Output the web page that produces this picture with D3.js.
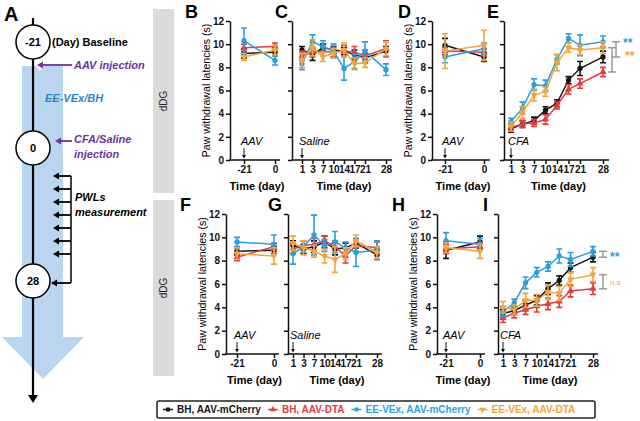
<!DOCTYPE html>
<html>
<head>
<meta charset="utf-8">
<script src="https://cdn.jsdelivr.net/npm/d3@7"></script>
<style>
  body { margin: 0; background: #fff; }
  svg { display: block; font-family: "Liberation Sans", Arial, sans-serif; }
  .axis path, .axis line { stroke: #111; stroke-width: 1.5; }
  .axis text { font-size: 10px; font-weight: bold; fill: #111; }
</style>
</head>
<body>
<svg id="fig" width="640" height="421"></svg>
<script>
// groups: black, red, blue, orange
const groups = ["BH, AAV-mCherry", "BH, AAV-DTA", "EE-VEx, AAV-mCherry", "EE-VEx, AAV-DTA"];
const colors = ["#151515", "#e8393f", "#2a9fe0", "#f2a53c"];
const baseDays = [-21, 0];
const testDays = [1, 3, 7, 10, 14, 17, 21, 28];
const yTicks = [0, 2, 4, 6, 8, 10, 12];

// B: baseline, top row
const meanB = [[9.2, 9.3], [9.7, 9.8], [10.3, 8.6], [8.9, 9.5]];
const semB  = [[0.4, 0.3], [0.3, 0.3], [1.1, 0.4], [0.3, 0.4]];
// C: saline, top row
const meanC = [
  [9.5, 9.1, 9.7, 9.5, 9.4, 9.1, 8.8, 9.4],
  [9.0, 9.3, 9.4, 9.3, 9.4, 9.3, 9.0, 9.6],
  [8.3, 10.2, 9.8, 9.4, 7.9, 8.5, 9.4, 7.8],
  [8.6, 9.7, 8.9, 9.2, 9.5, 8.3, 8.4, 9.6]];
const semC = [
  [0.3, 0.5, 0.3, 0.3, 0.3, 0.4, 0.4, 0.4],
  [0.4, 0.4, 0.4, 0.4, 0.5, 0.5, 0.5, 0.7],
  [0.5, 0.6, 0.5, 0.6, 1.0, 0.6, 0.8, 0.5],
  [0.6, 0.7, 0.4, 0.4, 0.6, 0.5, 0.4, 0.6]];
// D: baseline, top row
const meanD = [[9.9, 8.9], [9.4, 9.3], [8.9, 9.6], [9.4, 9.9]];
const semD  = [[0.6, 0.4], [0.3, 0.3], [0.5, 0.5], [1.5, 1.3]];
// E: CFA, top row
const meanE = [
  [2.7, 3.1, 3.4, 4.3, 4.9, 6.9, 7.9, 8.9],
  [2.8, 3.1, 3.2, 3.5, 4.7, 6.1, 6.6, 7.6],
  [3.3, 4.5, 6.5, 6.4, 8.7, 10.5, 9.9, 10.2],
  [2.9, 4.1, 5.6, 5.9, 8.4, 9.7, 9.5, 9.7]];
const semE = [
  [0.3, 0.3, 0.3, 0.3, 0.3, 0.3, 0.6, 0.5],
  [0.3, 0.3, 0.3, 0.4, 0.3, 0.4, 0.4, 0.4],
  [0.3, 0.5, 0.5, 0.5, 0.4, 0.4, 0.9, 0.5],
  [0.4, 0.5, 0.5, 0.4, 0.7, 0.4, 0.4, 0.5]];
// F: baseline, bottom row
const meanF = [[8.8, 8.9], [8.3, 9.2], [9.6, 9.4], [8.6, 8.4]];
const semF  = [[0.3, 0.3], [0.3, 0.3], [0.4, 0.8], [0.5, 0.7]];
// G: saline, bottom row
const meanG = [
  [9.3, 9.0, 9.2, 9.6, 9.0, 9.1, 9.5, 8.5],
  [9.0, 9.3, 9.4, 9.7, 9.2, 8.4, 9.3, 9.1],
  [8.6, 9.2, 10.2, 9.3, 9.6, 9.1, 8.7, 8.9],
  [9.5, 9.1, 8.8, 8.4, 8.1, 8.6, 9.7, 8.7]];
const semG = [
  [0.4, 0.4, 0.5, 0.5, 0.5, 0.4, 0.4, 0.4],
  [0.4, 0.4, 0.5, 0.4, 0.5, 0.6, 0.5, 0.5],
  [0.9, 0.5, 1.7, 0.5, 0.9, 0.5, 1.2, 0.8],
  [0.6, 0.6, 0.5, 0.6, 1.1, 0.5, 0.5, 0.5]];
// H: baseline, bottom row
const meanH = [[8.9, 9.6], [9.0, 9.2], [9.7, 9.4], [9.1, 8.8]];
const semH  = [[0.7, 0.5], [0.4, 0.3], [0.7, 0.5], [0.4, 0.6]];
// I: CFA, bottom row
const meanI = [
  [3.5, 3.7, 4.2, 4.6, 5.6, 6.3, 7.4, 8.3],
  [3.1, 3.5, 3.8, 4.1, 4.3, 4.5, 5.4, 5.6],
  [3.6, 4.4, 6.1, 7.0, 7.5, 8.4, 8.1, 8.8],
  [4.0, 3.8, 4.6, 4.6, 5.3, 5.2, 6.4, 6.8]];
const semI = [
  [0.3, 0.3, 0.4, 0.4, 0.5, 0.4, 0.4, 0.4],
  [0.4, 0.4, 0.4, 0.5, 0.5, 0.5, 0.5, 0.5],
  [0.4, 0.3, 0.5, 0.4, 0.4, 0.6, 0.6, 0.4],
  [0.5, 0.4, 0.6, 0.5, 0.6, 0.6, 0.6, 0.6]];

// stats at day 28: [group a, group b, label]
const sigE = [[2, 0, "**"], [3, 1, "**"]];
const sigI = [[2, 0, "**"], [3, 1, "n.s"]];

const svg = d3.select("#fig");
const rows = [[160, 21], [354, 214]];
// the CFA/saline axis puts day 28 two slots after day 21
const slot = d => d === 28 ? 8 : testDays.indexOf(d);

const panels = [
  { id: "B", row: 0, days: baseDays, mean: meanB, sem: semB, x0: 230, xa: 244, xb: 275, x1: 280, ylab: true, note: "AAV", lx: 185 },
  { id: "C", row: 0, days: testDays, mean: meanC, sem: semC, x0: 292, xa: 302, xb: 386, x1: 392, ylab: false, note: "Saline", lx: 275 },
  { id: "D", row: 0, days: baseDays, mean: meanD, sem: semD, x0: 432, xa: 445, xb: 484, x1: 490, ylab: true, note: "AAV", lx: 398 },
  { id: "E", row: 0, days: testDays, mean: meanE, sem: semE, x0: 504, xa: 511, xb: 603, x1: 609, ylab: false, note: "CFA", lx: 487, sig: sigE },
  { id: "F", row: 1, days: baseDays, mean: meanF, sem: semF, x0: 226, xa: 237, xb: 274, x1: 279, ylab: true, note: "AAV", lx: 180 },
  { id: "G", row: 1, days: testDays, mean: meanG, sem: semG, x0: 288, xa: 293, xb: 377, x1: 382, ylab: false, note: "Saline", lx: 268 },
  { id: "H", row: 1, days: baseDays, mean: meanH, sem: semH, x0: 437, xa: 446, xb: 480, x1: 485, ylab: true, note: "AAV", lx: 392 },
  { id: "I", row: 1, days: testDays, mean: meanI, sem: semI, x0: 498, xa: 503, xb: 593, x1: 598, ylab: false, note: "CFA", lx: 483, sig: sigI }
];

const shapes = [d3.symbolCircle, d3.symbolTriangle, d3.symbolCircle, d3.symbolTriangle];

// ---------- panel A : timeline ----------
const purple = "#7030a0";
const A = svg.append("g");
A.append("polygon")
  .attr("points", "22,66 36,66 40,71 44,66 63,66 63,337 84,337 43,379 2,337 22,337")
  .attr("fill", "#b9d5ef");
A.append("line").attr("x1", 33).attr("x2", 33).attr("y1", 18).attr("y2", 396)
  .attr("stroke", "#000").attr("stroke-width", 2.2);
A.append("path").attr("d", "M28,395 L38,395 L33,403 Z").attr("fill", "#000");

const circ = [[42, "-21"], [148, "0"], [281, "28"]];
circ.forEach(([cy, t]) => {
  A.append("circle").attr("cx", 33).attr("cy", cy).attr("r", 17)
    .attr("fill", "#fff").attr("stroke", "#000").attr("stroke-width", 1.5);
  A.append("text").attr("x", 33).attr("y", cy + 4).attr("text-anchor", "middle")
    .attr("font-size", 11).attr("font-weight", "bold").text(t);
});
A.append("text").attr("x", 4).attr("y", 21).attr("font-size", 20).attr("font-weight", "bold").text("A");
A.append("text").attr("x", 52).attr("y", 46).attr("font-size", 11).attr("font-weight", "bold").text("(Day) Baseline");

const leftArrow = (x1, x2, y, col) => {
  A.append("line").attr("x1", x1).attr("x2", x2 + 4).attr("y1", y).attr("y2", y)
    .attr("stroke", col).attr("stroke-width", 1.8);
  A.append("path").attr("d", `M${x2},${y} L${x2 + 6},${y - 3.5} L${x2 + 6},${y + 3.5} Z`).attr("fill", col);
};
leftArrow(72, 37, 65, purple);
A.append("text").attr("x", 74).attr("y", 69).attr("font-size", 11).attr("font-weight", "bold")
  .attr("font-style", "italic").attr("fill", purple).text("AAV injection");
A.append("text").attr("x", 45).attr("y", 102).attr("font-size", 11).attr("font-weight", "bold")
  .attr("font-style", "italic").attr("fill", "#2f86c6").text("EE-VEx/BH");
leftArrow(72, 55, 141, purple);
A.append("text").attr("x", 74).attr("y", 143).attr("font-size", 11).attr("font-weight", "bold")
  .attr("font-style", "italic").attr("fill", purple).text("CFA/Saline");
A.append("text").attr("x", 74).attr("y", 158).attr("font-size", 11).attr("font-weight", "bold")
  .attr("font-style", "italic").attr("fill", purple).text("injection");

const pwl = [176, 189, 202, 215, 228, 241, 254];
A.append("line").attr("x1", 71).attr("x2", 71).attr("y1", 176).attr("y2", 283)
  .attr("stroke", "#000").attr("stroke-width", 1.5);
pwl.forEach(yy => leftArrow(71, 53, yy, "#000"));
leftArrow(71, 51, 283, "#000");
A.append("text").attr("x", 75).attr("y", 201).attr("font-size", 11).attr("font-weight", "bold")
  .attr("font-style", "italic").text("PWLs");
A.append("text").attr("x", 75).attr("y", 216).attr("font-size", 11).attr("font-weight", "bold")
  .attr("font-style", "italic").text("measurement");

// ---------- dDG side bars ----------
[[9, 193], [200, 376]].forEach(([t, b]) => {
  svg.append("rect").attr("x", 153).attr("y", t).attr("width", 21).attr("height", b - t).attr("fill", "#dadada");
  svg.append("text").attr("transform", `translate(167,${(t + b) / 2}) rotate(-90)`)
    .attr("text-anchor", "middle").attr("font-size", 10).attr("fill", "#222").text("dDG");
});

// ---------- panels B..I ----------
panels.forEach(p => {
  const [yb, yt] = rows[p.row];
  const y = d3.scaleLinear().domain([0, 12]).range([yb, yt]);
  const isBase = p.days === baseDays;
  const x = isBase
    ? d3.scaleLinear().domain([-21, 0]).range([p.xa, p.xb])
    : d3.scaleLinear().domain([0, 8]).range([p.xa, p.xb]);
  const xp = d => isBase ? x(d) : x(slot(d));
  const g = svg.append("g");

  g.append("g").attr("class", "axis")
    .attr("transform", `translate(${p.x0},0)`)
    .call(d3.axisLeft(y).tickValues(yTicks).tickSize(4).tickSizeOuter(0).tickPadding(2)
      .tickFormat(p.ylab ? d3.format("d") : () => ""));

  const xs = d3.scaleOrdinal().domain(p.days).range(p.days.map(xp));
  const xg = g.append("g").attr("class", "axis")
    .attr("transform", `translate(0,${yb})`)
    .call(d3.axisBottom(xs).tickSize(4).tickPadding(2));
  xg.select(".domain").remove();
  xg.append("line").attr("x1", p.x0 - 0.75).attr("x2", p.x1).attr("stroke", "#111").attr("stroke-width", 1.5);

  g.append("text").attr("x", (p.x0 + p.x1) / 2 + 2).attr("y", yb + 30)
    .attr("text-anchor", "middle").attr("font-size", 11).attr("font-weight", "bold").text("Time (day)");
  if (p.ylab) {
    g.append("text").attr("transform", `translate(${p.x0 - 20},${(yb + yt) / 2}) rotate(-90)`)
      .attr("text-anchor", "middle").attr("font-size", 10.6).text("Paw withdrawal latencies (s)");
  }
  g.append("text").attr("x", p.lx).attr("y", yt - 3).attr("font-size", 18)
    .attr("font-weight", "bold").text(p.id);

  // annotation arrow
  const fx = xp(p.days[0]);
  g.append("text").attr("x", fx - 3).attr("y", yb - 15).attr("font-size", 11)
    .attr("font-style", "italic").text(p.note);
  g.append("line").attr("x1", fx).attr("x2", fx).attr("y1", yb - 12).attr("y2", yb - 4)
    .attr("stroke", "#111").attr("stroke-width", 1);
  g.append("path").attr("d", `M${fx - 2},${yb - 5} L${fx + 2},${yb - 5} L${fx},${yb - 1.5} Z`).attr("fill", "#111");

  // series
  p.mean.forEach((m, gi) => {
    const pts = p.days.map((d, i) => ({ x: xp(d), m: m[i], s: p.sem[gi][i] }));
    const col = colors[gi];
    const sg = g.append("g");
    sg.append("path").datum(pts)
      .attr("d", d3.line().x(d => d.x).y(d => y(d.m)))
      .attr("fill", "none").attr("stroke", col).attr("stroke-width", 1.5);
    sg.selectAll(".eb").data(pts).join("path")
      .attr("d", d => `M${d.x},${y(d.m - d.s)}V${y(d.m + d.s)}M${d.x - 3},${y(d.m + d.s)}h6M${d.x - 3},${y(d.m - d.s)}h6`)
      .attr("stroke", col).attr("stroke-width", 1.6).attr("fill", "none");
    sg.selectAll(".mk").data(pts).join("path")
      .attr("transform", d => `translate(${d.x},${y(d.m)})${gi === 3 ? " rotate(180)" : ""}`)
      .attr("d", d3.symbol(shapes[gi], 22))
      .attr("fill", col);
  });

  // significance brackets at day 28
  if (p.sig) {
    const last = p.days.length - 1;
    p.sig.forEach(([a, b, lab], k) => {
      const bx = p.id === "E" ? p.x1 + (k === 0 ? 7 : 3) : p.x1 + 5;
      const ya = y(p.mean[a][last]), yb2 = y(p.mean[b][last]);
      g.append("path")
        .attr("d", `M${bx - 4},${ya}h8M${bx},${ya}V${yb2}M${bx - 4},${yb2}h8`)
        .attr("stroke", "#9a9a9a").attr("stroke-width", 1.5).attr("fill", "none");
      const ns = lab === "n.s";
      // in E the two labels stack; keep them apart
      const ly = p.id === "E" ? (k === 0 ? ya + 5 : ya + 12) : (ya + yb2) / 2 + (ns ? 3 : 7);
      g.append("text").attr("x", p.id === "E" ? p.x1 + 14 + k * 2 : bx + 7)
        .attr("y", ly)
        .attr("font-size", ns ? 8 : 12).attr("font-weight", ns ? "normal" : "bold")
        .attr("fill", colors[a === 2 ? 2 : 3]).text(lab);
    });
  }
});

// ---------- legend ----------
const lg = svg.append("g");
lg.append("rect").attr("x", 157).attr("y", 401).attr("width", 438).attr("height", 17).attr("rx", 2)
  .attr("fill", "#fff").attr("stroke", "#222").attr("stroke-width", 1.5);
let lx = 163;
groups.forEach((name, gi) => {
  lg.append("line").attr("x1", lx).attr("x2", lx + 10).attr("y1", 409.5).attr("y2", 409.5)
    .attr("stroke", colors[gi]).attr("stroke-width", 1.5);
  lg.append("path").attr("transform", `translate(${lx + 5},409.5)${gi === 3 ? " rotate(180)" : ""}`)
    .attr("d", d3.symbol(shapes[gi], 16)).attr("fill", colors[gi]);
  const t = lg.append("text").attr("x", lx + 14).attr("y", 413).attr("font-size", 10)
    .attr("font-weight", "bold").attr("fill", colors[gi]).text(name);
  lx += 14 + t.node().getComputedTextLength() + 7;
});
</script>
</body>
</html>
